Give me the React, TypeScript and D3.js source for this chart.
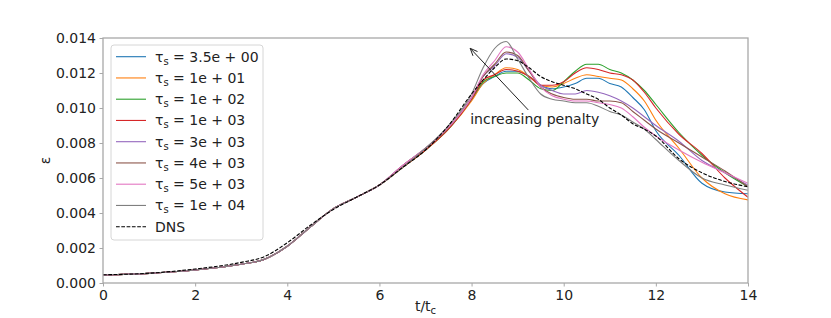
import React, { useEffect, useRef } from 'react';
import * as d3 from 'd3';

// time grid (t/t_c)
const T = [0, 1, 2, 3, 3.5, 4, 4.5, 5, 5.5, 6, 6.5, 7, 7.5, 8, 8.25, 8.5, 8.75, 9, 9.25, 9.5,
  9.75, 10, 10.25, 10.5, 10.75, 11, 11.25, 11.5, 11.75, 12, 12.5, 13, 13.5, 14];

const tau35 = [0.00046, 0.00055, 0.00074, 0.00107, 0.00135, 0.0021, 0.0032, 0.00425, 0.0049, 0.0056,
  0.0066, 0.0076, 0.0088, 0.0105, 0.0114, 0.0118, 0.0121, 0.0121, 0.0118, 0.0113,
  0.0111, 0.0112, 0.0114, 0.0117, 0.0117, 0.0114, 0.0112, 0.0106, 0.0099, 0.0087,
  0.0073, 0.0057, 0.0052, 0.0051];
const tau1e1 = [0.00046, 0.00055, 0.00074, 0.00107, 0.00135, 0.0021, 0.0032, 0.00425, 0.0049, 0.0056,
  0.0066, 0.0076, 0.0088, 0.0104, 0.0114, 0.0119, 0.0123, 0.0122, 0.0118, 0.0113,
  0.0112, 0.0114, 0.0117, 0.0119, 0.0118, 0.0117, 0.0116, 0.0111, 0.0104, 0.0093,
  0.0077, 0.0060, 0.0051, 0.00475];
const tau1e2 = [0.00046, 0.00055, 0.00074, 0.00107, 0.00135, 0.0021, 0.0032, 0.00425, 0.0049, 0.0056,
  0.0066, 0.0076, 0.0088, 0.0105, 0.0115, 0.0118, 0.0120, 0.0120, 0.0116, 0.0111,
  0.0110, 0.0115, 0.0121, 0.0125, 0.0125, 0.0122, 0.0120, 0.0116, 0.0110, 0.0102,
  0.0086, 0.0073, 0.0063, 0.0055];
const tau1e3 = [0.00046, 0.00055, 0.00074, 0.00107, 0.00135, 0.0021, 0.0032, 0.00425, 0.0049, 0.0056,
  0.0066, 0.0076, 0.0088, 0.0105, 0.0116, 0.0119, 0.0122, 0.0121, 0.0118, 0.0113,
  0.0113, 0.0115, 0.0120, 0.0123, 0.0122, 0.0120, 0.0119, 0.0116, 0.0109, 0.0100,
  0.0085, 0.0074, 0.0060, 0.0049];
const tau3e3 = [0.00046, 0.00055, 0.00074, 0.00107, 0.00135, 0.0021, 0.0032, 0.00425, 0.0049, 0.0056,
  0.0067, 0.0077, 0.0089, 0.0106, 0.0118, 0.0124, 0.0131, 0.0129, 0.0121, 0.0113,
  0.0110, 0.0108, 0.0108, 0.0110, 0.0109, 0.0107, 0.0104, 0.0100, 0.0095, 0.0090,
  0.0081, 0.0070, 0.0063, 0.0056];
const tau4e3 = [0.00046, 0.00055, 0.00074, 0.00107, 0.00135, 0.0021, 0.0032, 0.00425, 0.0049, 0.0056,
  0.0067, 0.0077, 0.0089, 0.0106, 0.0118, 0.0125, 0.0132, 0.0130, 0.0121, 0.0112,
  0.0108, 0.0106, 0.0105, 0.0105, 0.0104, 0.0104, 0.0103, 0.0098, 0.0093, 0.0088,
  0.0080, 0.0072, 0.0064, 0.0055];
const tau5e3 = [0.00046, 0.00055, 0.00074, 0.00107, 0.00135, 0.0021, 0.0032, 0.00425, 0.0049, 0.0056,
  0.0067, 0.0077, 0.0089, 0.0106, 0.0119, 0.0127, 0.0135, 0.0132, 0.0122, 0.0112,
  0.0107, 0.0105, 0.0104, 0.0104, 0.0103, 0.0102, 0.0100, 0.0095, 0.0089, 0.0084,
  0.0076, 0.0069, 0.0063, 0.0057];
const tau1e4 = [0.00046, 0.00055, 0.00074, 0.00107, 0.00135, 0.0021, 0.0032, 0.00425, 0.0049, 0.0056,
  0.0066, 0.0077, 0.0090, 0.0108, 0.0123, 0.0134, 0.0138, 0.0128, 0.0117, 0.0108,
  0.0105, 0.0104, 0.0103, 0.0103, 0.0101, 0.0098, 0.0096, 0.0092, 0.0088, 0.0082,
  0.0070, 0.0060, 0.0056, 0.0053];
const dns = [0.00047, 0.00056, 0.0008, 0.00118, 0.0015, 0.0023, 0.0033, 0.0042, 0.0049, 0.0056,
  0.0066, 0.0076, 0.0090, 0.0108, 0.0116, 0.0123, 0.0128, 0.0127, 0.0123, 0.0118,
  0.0115, 0.0113, 0.0111, 0.0108, 0.0105, 0.0100, 0.0096, 0.0091, 0.0088, 0.0084,
  0.0071, 0.0063, 0.0058, 0.0055];

const seriesValues = [tau35, tau1e1, tau1e2, tau1e3, tau3e3, tau4e3, tau5e3, tau1e4];
const tauLabels = ['3.5e + 00', '1e + 01', '1e + 02', '1e + 03', '3e + 03', '4e + 03', '5e + 03', '1e + 04'];
const colors = ['#1f77b4', '#ff7f0e', '#2ca02c', '#d62728', '#9467bd', '#8c564b', '#e377c2', '#7f7f7f'];

const xTicks = [0, 2, 4, 6, 8, 10, 12, 14];
const yTicks = [0, 0.002, 0.004, 0.006, 0.008, 0.010, 0.012, 0.014];

// annotation: arrow head (t, eps), text anchor (t, eps)
const arrowHead = [7.97, 0.01341];
const arrowTail = [9.23, 0.00989];
const annoText = [7.97, 0.0091];

const W = 831, H = 318;
const margin = { left: 103, right: 83, top: 38, bottom: 35 };
const FONT = '"DejaVu Sans", sans-serif';

export default function App() {
  const ref = useRef<SVGSVGElement>(null);

  useEffect(() => {
    const svg = d3.select(ref.current);
    svg.selectAll('*').remove();

    const x = d3.scaleLinear().domain([0, 14]).range([margin.left, W - margin.right]);
    const y = d3.scaleLinear().domain([0, 0.014]).range([H - margin.bottom, margin.top]);

    svg.append('defs').append('clipPath').attr('id', 'plotclip')
      .append('rect')
      .attr('x', x(0)).attr('y', y(0.014))
      .attr('width', x(14) - x(0)).attr('height', y(0) - y(0.014));

    const line = d3.line<number>()
      .x((d, i) => x(T[i]))
      .y(d => y(d))
      .curve(d3.curveMonotoneX);

    const g = svg.append('g').attr('clip-path', 'url(#plotclip)');
    seriesValues.forEach((vals, i) => {
      g.append('path')
        .attr('d', line(vals))
        .attr('fill', 'none')
        .attr('stroke', colors[i])
        .attr('stroke-width', 1.1);
    });
    g.append('path')
      .attr('d', line(dns))
      .attr('fill', 'none')
      .attr('stroke', '#000')
      .attr('stroke-width', 1.1)
      .attr('stroke-dasharray', '3.7,1.6');

    // spines
    svg.append('rect')
      .attr('x', x(0)).attr('y', y(0.014))
      .attr('width', x(14) - x(0)).attr('height', y(0) - y(0.014))
      .attr('fill', 'none').attr('stroke', '#a8a8a8').attr('stroke-width', 1.3);

    const xAxis = svg.append('g')
      .attr('transform', `translate(0,${y(0)})`)
      .call(d3.axisBottom(x).tickValues(xTicks).tickSize(3.5).tickPadding(4).tickFormat(d3.format('d')));
    const yAxis = svg.append('g')
      .attr('transform', `translate(${x(0)},0)`)
      .call(d3.axisLeft(y).tickValues(yTicks).tickSize(3.5).tickPadding(3.5).tickFormat(d3.format('.3f')));
    [xAxis, yAxis].forEach(ax => {
      ax.select('.domain').remove();
      ax.selectAll('line').attr('stroke', '#a8a8a8');
      ax.selectAll('text').attr('font-family', FONT).attr('font-size', 14).attr('fill', '#222');
    });

    // axis labels
    const xl = svg.append('text')
      .attr('x', (x(0) + x(14)) / 2).attr('y', 311)
      .attr('text-anchor', 'middle')
      .attr('font-family', FONT).attr('font-size', 14).attr('fill', '#222');
    xl.append('tspan').text('t/t');
    xl.append('tspan').attr('font-size', 10).attr('dy', 3).text('c');

    svg.append('text')
      .attr('transform', `translate(50,${(y(0) + y(0.014)) / 2}) rotate(-90)`)
      .attr('text-anchor', 'middle')
      .attr('font-family', FONT).attr('font-size', 14).attr('fill', '#222')
      .text('ε');

    // annotation
    const hx = x(arrowHead[0]), hy = y(arrowHead[1]);
    const tx = x(arrowTail[0]), ty = y(arrowTail[1]);
    svg.append('line')
      .attr('x1', tx).attr('y1', ty).attr('x2', hx).attr('y2', hy)
      .attr('stroke', '#222').attr('stroke-width', 1);
    const ang = Math.atan2(hy - ty, hx - tx);
    const hl = 8, spread = 0.4;
    svg.append('path')
      .attr('d', `M${hx - hl * Math.cos(ang - spread)},${hy - hl * Math.sin(ang - spread)}L${hx},${hy}L${hx - hl * Math.cos(ang + spread)},${hy - hl * Math.sin(ang + spread)}`)
      .attr('fill', 'none').attr('stroke', '#222').attr('stroke-width', 1);
    svg.append('rect')
      .attr('x', x(annoText[0]) - 1).attr('y', y(annoText[1]) - 13)
      .attr('width', 0).attr('height', 0);
    svg.append('text')
      .attr('x', x(annoText[0])).attr('y', y(annoText[1]))
      .attr('font-family', FONT).attr('font-size', 14).attr('fill', '#222')
      .text('increasing penalty');

    // legend
    const lg = svg.append('g');
    lg.append('rect')
      .attr('x', 111).attr('y', 45).attr('width', 152).attr('height', 195)
      .attr('rx', 3).attr('fill', '#fff').attr('fill-opacity', 0.8)
      .attr('stroke', '#d6d6d6').attr('stroke-width', 1);
    const entries = [...tauLabels.map((l, i) => ({ l, c: colors[i], dns: false })), { l: 'DNS', c: '#000', dns: true }];
    entries.forEach((e, i) => {
      const cy = 56.7 + i * 21.25;
      lg.append('line')
        .attr('x1', 116).attr('x2', 146).attr('y1', cy).attr('y2', cy)
        .attr('stroke', e.c).attr('stroke-width', 1.1)
        .attr('stroke-dasharray', e.dns ? '3.7,1.6' : null);
      const t = lg.append('text')
        .attr('x', 155).attr('y', cy + 5)
        .attr('font-family', FONT).attr('font-size', 14).attr('fill', '#222');
      if (e.dns) {
        t.text('DNS');
      } else {
        t.append('tspan').text('τ');
        t.append('tspan').attr('font-size', 10).attr('dy', 3).text('s');
        t.append('tspan').attr('dy', -3).text(' = ' + e.l);
      }
    });
  }, []);

  return (
    <svg ref={ref} width={W} height={H}
      style={{ position: 'absolute', left: 0, top: 0, background: '#fff' }} />
  );
}
